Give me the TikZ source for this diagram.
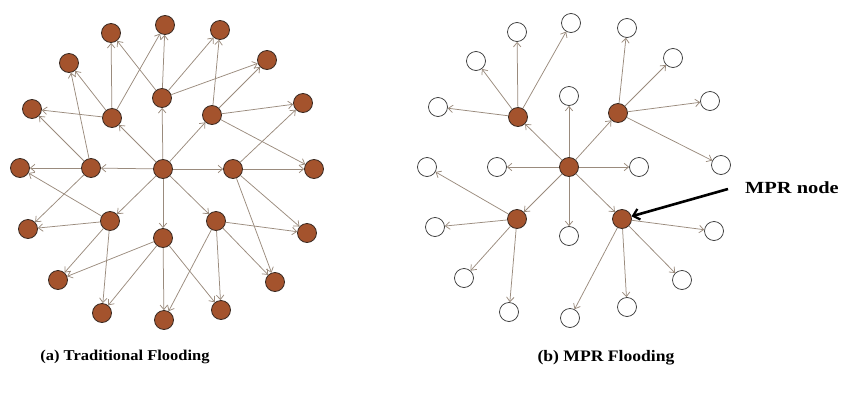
\documentclass[tikz,border=0pt]{standalone}
\usepackage{fontspec}
\setmainfont{Liberation Serif}
\usetikzlibrary{arrows.meta}
\definecolor{nodefill}{HTML}{A4532D}
\definecolor{nodeline}{HTML}{3A2A22}
\definecolor{edgecol}{HTML}{9A8B7D}
\tikzset{
  fnode/.style={circle,minimum size=19pt,inner sep=0pt,fill=nodefill,draw=nodeline,line width=0.8pt},
  onode/.style={circle,minimum size=19pt,inner sep=0pt,fill=white,draw=black!80,line width=0.7pt},
  edge/.style={draw=edgecol,line width=0.75pt,-{Straight Barb[length=4.5pt,width=7.5pt]}},
  caption/.style={font=\fontsize{15}{18}\selectfont\bfseries,inner sep=0pt},
  pointer/.style={draw=black,line width=2.6pt,-{Straight Barb[length=6pt,width=11pt,line width=2.2pt]}}
}
\begin{document}
\begin{tikzpicture}[x=1pt,y=-1pt]
\useasboundingbox (0,0) rectangle (844,394);
% ---------- (a) Traditional Flooding ----------
\foreach \n/\x/\y in {a0/163/169,a1/111/33,a2/165/25,a3/220/30,a4/267/60,a5/69/63,a6/112/118,a7/162/98,a8/212/115,a9/303/103,a10/32/109,a11/20/168,a12/91/168,a14/233/169,a15/314/169,a16/28/229,a17/110/221,a18/163/238,a19/216/221,a20/307/233,a21/58/280,a22/275/282,a23/102/313,a24/164/320,a25/221/310}
  {\node[fnode] (\n) at (\x,\y) {};}
\foreach \s/\t in {a0/a6,a0/a7,a0/a8,a0/a12,a0/a14,a0/a17,a0/a18,a0/a19,
  a7/a2,a7/a3,a7/a4,a7/a1,
  a6/a1,a6/a2,a6/a10,a6/a5,
  a12/a11,a12/a10,a12/a5,a12/a16,
  a17/a16,a17/a11,a17/a21,a17/a23,
  a18/a21,a18/a23,a18/a24,a18/a25,
  a19/a24,a19/a25,a19/a20,a19/a22,
  a14/a15,a14/a20,a14/a22,a14/a9,
  a8/a4,a8/a3,a8/a9,a8/a15}
  {\draw[edge] (\s) -- (\t);}
\node[caption] (capa) at (125,357) {\scalebox{1.1}[1]{(a) Traditional Flooding}};
% ---------- (b) MPR Flooding ----------
\foreach \n/\x/\y in {b0/569/167,b1/518/117,b2/618/113,b3/517/219,b4/622/219}
  {\node[fnode] (\n) at (\x,\y) {};}
\foreach \n/\x/\y in {o1/571/23,o2/517/32,o3/476/61,o4/438/107,o5/569/96,o6/427/167,o7/497/167,o8/627/28,o9/673/58,o10/710/101,o11/639/167,o12/721/165,o13/435/227,o14/569/236,o15/464/278,o16/509/312,o17/570/318,o18/714/231,o19/682/280,o20/627/307}
  {\node[onode] (\n) at (\x,\y) {};}
\foreach \s/\t in {b0/b1,b0/b2,b0/b3,b0/b4,b0/o5,b0/o7,b0/o11,b0/o14,
  b1/o4,b1/o3,b1/o2,b1/o1,
  b2/o8,b2/o9,b2/o10,b2/o12,
  b3/o6,b3/o13,b3/o15,b3/o16,
  b4/o18,b4/o19,b4/o20,b4/o17}
  {\draw[edge] (\s) -- (\t);}
\node[caption,font=\fontsize{17}{20}\selectfont\bfseries,anchor=west] (mpr) at (745,188) {\scalebox{1.2}[1]{MPR node}};
\coordinate (mprstart) at (728,189);
\draw[pointer] (mprstart) -- (b4);
\node[caption,font=\fontsize{16}{19}\selectfont\bfseries] (capb) at (606,358) {\scalebox{1.1}[1]{(b) MPR Flooding}};
\end{tikzpicture}
\end{document}
